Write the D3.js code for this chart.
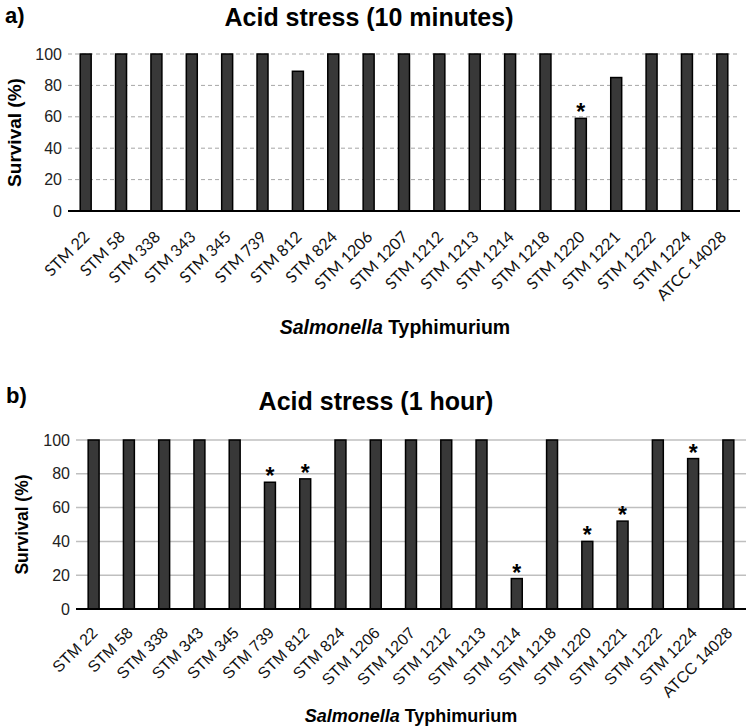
<!DOCTYPE html>
<html>
<head>
<meta charset="utf-8">
<script src="https://cdn.jsdelivr.net/npm/d3@7"></script>
<style>
body { margin: 0; background: #fff; }
svg { display: block; }
</style>
</head>
<body>
<svg id="chart" width="750" height="728"></svg>
<script>
let strains = ["STM 22", "STM 58", "STM 338", "STM 343", "STM 345", "STM 739", "STM 812", "STM 824",
	"STM 1206", "STM 1207", "STM 1212", "STM 1213", "STM 1214", "STM 1218", "STM 1220", "STM 1221",
	"STM 1222", "STM 1224", "ATCC 14028"];
let survival10min = [100, 100, 100, 100, 100, 100, 89, 100, 100, 100, 100, 100, 100, 100, 59, 85, 100, 100, 100];
let star10min = ["STM 1220"];
let survival1h = [100, 100, 100, 100, 100, 75, 77, 100, 100, 100, 100, 100, 18, 100, 40, 52, 100, 89, 100];
let star1h = ["STM 739", "STM 812", "STM 1214", "STM 1220", "STM 1221", "STM 1224"];
let yTicks = [0, 20, 40, 60, 80, 100];

function drawPanel(svg, p){
	let g = svg.append("g");
	let x = d3.scaleBand().domain(strains).range([p.left, p.right]).paddingInner(0.69).paddingOuter(0.345);
	let y = d3.scaleLinear().domain([0, 100]).range([p.bottom, p.top]);

	// panel letter + title
	g.append("text").attr("x", p.letterX).attr("y", p.letterY)
		.attr("font-family", "Liberation Sans, Arial, sans-serif").attr("font-weight", "bold")
		.attr("font-size", 22).text(p.letter);
	g.append("text").attr("x", p.titleX).attr("y", p.titleY).attr("text-anchor", "middle")
		.attr("font-family", "Liberation Sans, Arial, sans-serif").attr("font-weight", "bold")
		.attr("font-size", 25).text(p.title);

	// gridlines
	g.selectAll(".grid").data(yTicks.filter(d => d > 0)).enter().append("line")
		.attr("x1", p.left).attr("x2", p.right)
		.attr("y1", d => y(d)).attr("y2", d => y(d))
		.attr("stroke", p.gridColor).attr("stroke-width", p.gridWidth)
		.attr("stroke-dasharray", p.dashed ? "4,3" : null);

	// y axis
	let yAxis = g.append("g").attr("transform", `translate(${p.left},0)`)
		.call(d3.axisLeft(y).tickValues(yTicks).tickSize(0).tickPadding(6));
	yAxis.select(".domain").remove();
	yAxis.selectAll("text").attr("font-family", "Liberation Sans, Arial, sans-serif")
		.attr("font-size", 16).attr("fill", "#222");

	g.append("text")
		.attr("transform", `translate(${p.yTitleX},${(p.top + p.bottom) / 2}) rotate(-90)`)
		.attr("text-anchor", "middle")
		.attr("font-family", "Liberation Sans, Arial, sans-serif").attr("font-weight", "bold")
		.attr("font-size", p.yTitleSize).text("Survival (%)");

	// bars
	let rows = p.values.map((v, i) => ({name: strains[i], v: v}));
	g.selectAll(".bar").data(rows).enter().append("rect")
		.attr("x", d => x(d.name)).attr("width", x.bandwidth())
		.attr("y", d => y(d.v)).attr("height", d => y(0) - y(d.v))
		.attr("fill", "#383838").attr("stroke", "#000").attr("stroke-width", 1.5);

	// significance stars
	g.selectAll(".star").data(rows.filter(d => p.stars.includes(d.name)))
		.enter().append("text")
		.attr("x", d => x(d.name) + x.bandwidth() / 2).attr("y", d => y(d.v) + 2)
		.attr("text-anchor", "middle")
		.attr("font-family", "Liberation Sans, Arial, sans-serif").attr("font-weight", "bold")
		.attr("font-size", 23).text("*");

	// x axis
	let xAxis = g.append("g").attr("transform", `translate(0,${p.bottom})`)
		.call(d3.axisBottom(x).tickSize(0).tickSizeOuter(0));
	xAxis.select(".domain").attr("stroke", "#000").attr("stroke-width", 2)
		.attr("d", `M${p.left},0H${p.right}`);
	xAxis.selectAll("text")
		.attr("font-family", p.labelFont).attr("font-size", 16).attr("fill", "#111")
		.attr("text-anchor", "end").attr("dy", null).attr("y", 0)
		.attr("transform", `translate(5,${p.labelDrop}) rotate(-45)`);

	let xt = g.append("text").attr("x", p.xTitleX).attr("y", p.xTitleY).attr("text-anchor", "middle")
		.attr("font-family", "Liberation Sans, Arial, sans-serif").attr("font-weight", "bold")
		.attr("font-size", p.xTitleSize);
	xt.append("tspan").attr("font-style", "italic").text("Salmonella");
	xt.append("tspan").text(" Typhimurium");
}

let svg = d3.select("#chart");

drawPanel(svg, {
	letter: "a)", letterX: 5, letterY: 23,
	title: "Acid stress (10 minutes)", titleX: 369, titleY: 26,
	left: 68, right: 740, top: 54, bottom: 211,
	values: survival10min, stars: star10min,
	gridColor: "#a6a6a6", gridWidth: 1, dashed: true,
	yTitleX: 21, yTitleSize: 19, labelFont: "Lato, Open Sans, sans-serif", labelDrop: 27,
	xTitleX: 395, xTitleY: 334, xTitleSize: 19.5
});

drawPanel(svg, {
	letter: "b)", letterX: 6, letterY: 403,
	title: "Acid stress (1 hour)", titleX: 376, titleY: 410,
	left: 76, right: 746, top: 440, bottom: 609,
	values: survival1h, stars: star1h,
	gridColor: "#bfbfbf", gridWidth: 1.5, dashed: false,
	yTitleX: 28, yTitleSize: 17.5, labelFont: "Liberation Sans, Arial, sans-serif", labelDrop: 25,
	xTitleX: 411, xTitleY: 722, xTitleSize: 18
});
</script>
</body>
</html>
